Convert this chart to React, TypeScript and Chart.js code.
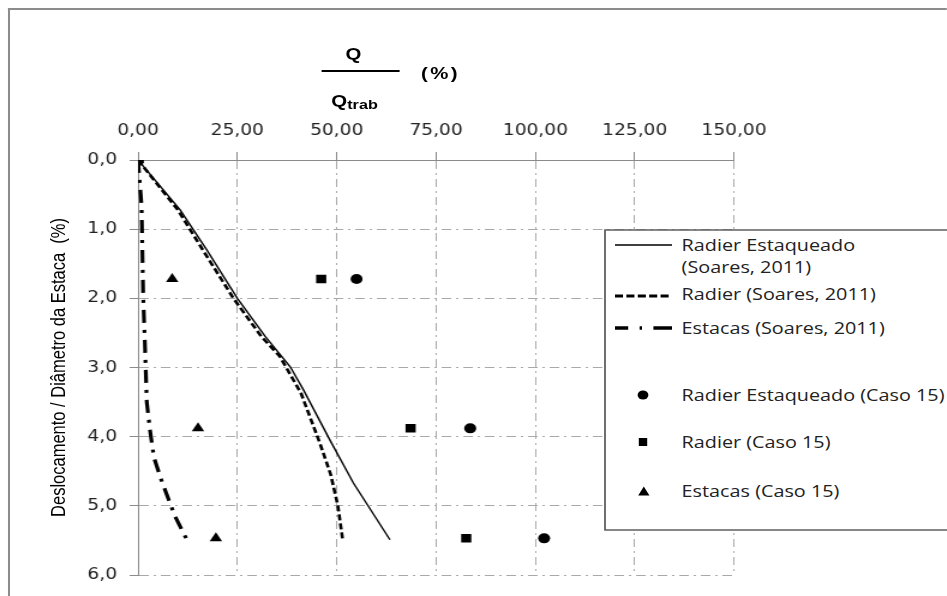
import React, { useEffect, useRef } from "react";
import { Chart, registerables } from "chart.js";

Chart.register(...registerables);

// ---- data ----
const xTickValues = [0, 25, 50, 75, 100, 125, 150];
const yTickValues = [0, 1, 2, 3, 4, 5, 6];

const legendLabels = [
  "Radier Estaqueado (Soares, 2011)",
  "Radier (Soares, 2011)",
  "Estacas (Soares, 2011)",
  "Radier Estaqueado (Caso 15)",
  "Radier (Caso 15)",
  "Estacas (Caso 15)",
];

const reSoaresX = [0, 10.6, 17.3, 25.0, 32.0, 38.3, 41.6, 48.3, 54.2, 63.4];
const reSoaresY = [0, 0.72, 1.3, 2.0, 2.55, 2.99, 3.32, 4.05, 4.67, 5.49];

const radSoaresX = [0, 10.0, 16.3, 24.0, 31.0, 35.7, 41.0, 45.8, 48.5, 50.3, 51.5];
const radSoaresY = [0, 0.72, 1.3, 2.0, 2.55, 2.84, 3.37, 4.1, 4.55, 5.0, 5.49];

const estSoaresX = [0, 0.9, 1.3, 1.7, 2.2, 3.0, 4.0, 6.0, 9.3, 12.3];
const estSoaresY = [0, 0.67, 1.98, 2.6, 3.5, 3.9, 4.3, 4.65, 5.15, 5.49];

const reCasoX = [0, 55.0, 83.6, 102.2];
const reCasoY = [0, 1.72, 3.88, 5.47];

const radCasoX = [0, 46.1, 68.6, 82.6];
const radCasoY = [0, 1.72, 3.88, 5.47];

const estCasoX = [0, 8.6, 15.1, 19.6];
const estCasoY = [0, 1.72, 3.88, 5.47];

// ---- layout helpers ----
const SX = 1.2; // horizontal stretch of the reference picture
const W = 947 / SX;
const H = 596;

const zip = (xs: number[], ys: number[]) => xs.map((x, i) => ({ x, y: ys[i] }));
const fmtX = (v: number) => v.toFixed(2).replace(".", ",");
const fmtY = (v: number) => v.toFixed(1).replace(".", ",");

function App() {
  const canvasRef = useRef<HTMLCanvasElement | null>(null);

  useEffect(() => {
    if (!canvasRef.current) return;
    const gridColor = "#a9a9a9";
    const axisColor = "#8a8a8a";
    const tickFont = { family: "'DejaVu Sans', Verdana, sans-serif", size: 15.5 };
    const chart = new Chart(canvasRef.current, {
      type: "scatter",
      data: {
        datasets: [
          {
            label: legendLabels[3],
            data: zip(reCasoX, reCasoY),
            showLine: false,
            pointStyle: "circle",
            pointRadius: 5,
            backgroundColor: "#000",
            borderColor: "#000",
            borderWidth: 0,
          },
          {
            label: legendLabels[4],
            data: zip(radCasoX, radCasoY),
            showLine: false,
            pointStyle: "rect",
            pointRadius: 6,
            backgroundColor: "#000",
            borderColor: "#000",
            borderWidth: 0,
          },
          {
            label: legendLabels[5],
            data: zip(estCasoX, estCasoY),
            showLine: false,
            pointStyle: "triangle",
            pointRadius: 6,
            backgroundColor: "#000",
            borderColor: "#000",
            borderWidth: 0,
          },
          {
            label: legendLabels[0],
            data: zip(reSoaresX, reSoaresY),
            showLine: true,
            borderColor: "#000",
            borderWidth: 1.4,
            pointRadius: 0,
            tension: 0,
          },
          {
            label: legendLabels[1],
            data: zip(radSoaresX, radSoaresY),
            showLine: true,
            borderColor: "#000",
            borderWidth: 2.6,
            borderDash: [6, 3],
            pointRadius: 0,
            tension: 0,
          },
          {
            label: legendLabels[2],
            data: zip(estSoaresX, estSoaresY),
            showLine: true,
            borderColor: "#000",
            borderWidth: 3.2,
            borderDash: [13, 7, 3, 7],
            pointRadius: 0,
            tension: 0,
          },
        ],
      },
      options: {
        animation: false,
        responsive: true,
        maintainAspectRatio: false,
        layout: { padding: { left: 45, top: 110, right: W - 734 / SX, bottom: 21 } },
        plugins: { legend: { display: false }, tooltip: { enabled: false } },
        scales: {
          x: {
            type: "linear",
            position: "top",
            min: 0,
            max: 150,
            afterBuildTicks: (s: any) => {
              s.ticks = xTickValues.map((v) => ({ value: v }));
            },
            afterFit: (s: any) => {
              s.height = 50;
            },
            ticks: {
              callback: (v: any) => fmtX(Number(v)),
              font: tickFont,
              color: "#222",
              padding: 12,
              maxRotation: 0,
              autoSkip: false,
            },
            grid: {
              color: gridColor,
              lineWidth: 1,
              tickLength: 8,
              tickColor: axisColor,
              tickBorderDash: [],
            },
            border: { display: true, color: axisColor, width: 1, dash: [8, 4, 2, 4] },
          },
          y: {
            type: "linear",
            position: "left",
            reverse: true,
            min: 0,
            max: 6,
            afterBuildTicks: (s: any) => {
              s.ticks = yTickValues.map((v) => ({ value: v }));
            },
            afterFit: (s: any) => {
              s.width = 70;
            },
            ticks: {
              callback: (v: any) => fmtY(Number(v)),
              font: tickFont,
              color: "#222",
              padding: 10.5,
              autoSkip: false,
            },
            grid: {
              color: gridColor,
              lineWidth: 1,
              tickLength: 7,
              tickColor: axisColor,
              tickBorderDash: [],
            },
            border: { display: true, color: axisColor, width: 1, dash: [8, 4, 2, 4] },
          },
        },
      } as any,
    });
    return () => chart.destroy();
  }, []);

  const legFont = "'Open Sans', 'Noto Sans', sans-serif";
  const legX = 568;
  const mX = 643 / SX;
  const sampleX1 = 615 / SX;
  const sampleX2 = 672 / SX;

  return (
    <div
      style={{
        position: "absolute",
        left: 0,
        top: 0,
        width: 947,
        height: 596,
        overflow: "hidden",
        background: "#fff",
      }}
    >
      <div
        style={{
          position: "absolute",
          left: 0,
          top: 0,
          width: W,
          height: H,
          transform: `scaleX(${SX})`,
          transformOrigin: "0 0",
        }}
      >
        <div style={{ position: "absolute", left: 0, top: 0, width: W, height: H }}>
          <canvas ref={canvasRef} />
        </div>
        <svg
          width={W}
          height={H}
          style={{ position: "absolute", left: 0, top: 0, pointerEvents: "none" }}
        >
          {/* outer frame */}
          <line x1={7.5} y1={8} x2={7.5} y2={700} stroke="#8c8c8c" strokeWidth={1.7} />
          <line x1={6.6} y1={9} x2={900} y2={9} stroke="#8c8c8c" strokeWidth={2} />

          {/* axis title Q / Qtrab (%) */}
          <text
            x={294.5}
            y={60}
            textAnchor="middle"
            fontFamily="'Liberation Sans', Arial, sans-serif"
            fontWeight="bold"
            fontSize={17}
            fill="#000"
          >
            Q
          </text>
          <line x1={268} y1={71} x2={333} y2={71} stroke="#000" strokeWidth={2} />
          <text
            x={295.5}
            y={107}
            textAnchor="middle"
            fontFamily="'Liberation Sans', Arial, sans-serif"
            fontWeight="bold"
            fontSize={17}
            fill="#000"
          >
            Q
            <tspan fontSize={13.5} dy={2}>
              trab
            </tspan>
          </text>
          <text
            x={367}
            y={79}
            textAnchor="middle"
            fontFamily="'Liberation Sans', Arial, sans-serif"
            fontWeight="bold"
            fontSize={17}
            letterSpacing={2}
            fill="#000"
          >
            (%)
          </text>

          {/* y axis title */}
          <text
            transform={`translate(54.2, 367.5) rotate(-90)`}
            textAnchor="middle"
            fontFamily="'Liberation Sans', Arial, sans-serif"
            fontSize={16.5}
            fill="#000"
          >
            {"Deslocamento / Diâmetro da Estaca\u00A0\u00A0(%)"}
          </text>

          {/* legend */}
          <rect x={605 / SX} y={230} width={400} height={300} fill="#fff" stroke="#555" strokeWidth={1.4} />
          <line x1={sampleX1} y1={245} x2={sampleX2} y2={245} stroke="#000" strokeWidth={1.5} />
          <line
            x1={sampleX1}
            y1={296}
            x2={sampleX2}
            y2={296}
            stroke="#000"
            strokeWidth={3}
            strokeDasharray="6.7 2.8"
          />
          <line
            x1={sampleX1}
            y1={328}
            x2={sampleX2}
            y2={328}
            stroke="#000"
            strokeWidth={3.5}
            strokeDasharray="11 9.5 2 9.5 16"
          />
          <circle cx={mX} cy={395} r={4.5} fill="#000" />
          <rect x={mX - 3.5} y={442 - 4} width={7} height={8} fill="#000" />
          <polygon
            points={`${mX + 0.7},486.5 ${mX + 5.4},495.5 ${mX - 4},495.5`}
            fill="#000"
          />
          <g fontFamily={legFont} fontSize={16.5} fill="#222">
            <text x={legX} y={251}>Radier Estaqueado</text>
            <text x={legX} y={273}>(Soares, 2011)</text>
            <text x={legX} y={300}>{legendLabels[1]}</text>
            <text x={legX} y={334}>{legendLabels[2]}</text>
            <text x={legX} y={401}>{legendLabels[3]}</text>
            <text x={legX} y={448}>{legendLabels[4]}</text>
            <text x={legX} y={497}>{legendLabels[5]}</text>
          </g>
        </svg>
      </div>
    </div>
  );
}

export default App;
